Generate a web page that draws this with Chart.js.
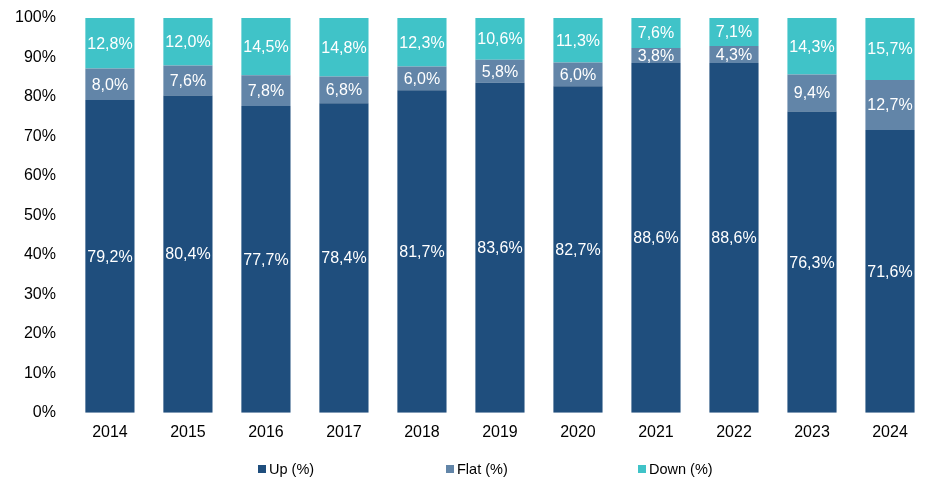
<!DOCTYPE html>
<html>
<head>
<meta charset="utf-8">
<script src="https://cdn.jsdelivr.net/npm/chart.js@4/dist/chart.umd.min.js"></script>
<style>
  html, body { margin: 0; padding: 0; background: #fff; }
  #wrap { position: relative; width: 937px; height: 495px; }
  .legend { position: absolute; top: 460px; font: 14.5px "Liberation Sans", Arial, sans-serif; color: #000; white-space: nowrap; line-height: 18px; }
  .legend span.box { display: inline-block; width: 8px; height: 8px; margin-right: 3px; vertical-align: 1px; }
</style>
</head>
<body>
<div id="wrap">
  <canvas id="chart"></canvas>
</div>
<script>
(function () {
  var years = ["2014", "2015", "2016", "2017", "2018", "2019", "2020", "2021", "2022", "2023", "2024"];
  var upValues = [79.2, 80.4, 77.7, 78.4, 81.7, 83.6, 82.7, 88.6, 88.6, 76.3, 71.6];
  var flatValues = [8.0, 7.6, 7.8, 6.8, 6.0, 5.8, 6.0, 3.8, 4.3, 9.4, 12.7];
  var downValues = [12.8, 12.0, 14.5, 14.8, 12.3, 10.6, 11.3, 7.6, 7.1, 14.3, 15.7];
  var seriesNames = ["Up (%)", "Flat (%)", "Down (%)"];

  var COLORS = {
    up: "#1f4e7d",
    flat: "#6285a8",
    down: "#40c3c8",
  };
  var FONT = "'Liberation Sans', Arial, sans-serif";

  // write the numbers in the middle of each segment, comma decimals
  var segmentLabels = {
    id: "segmentLabels",
    afterDatasetsDraw: function (chart) {
      var ctx = chart.ctx;
      ctx.save();
      ctx.font = "16px " + FONT;
      ctx.fillStyle = "#fff";
      ctx.textAlign = "center";
      ctx.textBaseline = "middle";
      chart.data.datasets.forEach(function (ds, i) {
        var meta = chart.getDatasetMeta(i);
        meta.data.forEach(function (bar, j) {
          var p = bar.getProps(["x", "y", "base"], true);
          var txt = ds.data[j].toFixed(1).replace(".", ",") + "%";
          ctx.fillText(txt, p.x, (p.y + p.base) / 2 + 1);
        });
      });
      ctx.restore();
    }
  };

  var chart = new Chart(document.getElementById("chart"), {
    type: "bar",
    data: {
      labels: years,
      datasets: [
        { label: seriesNames[0], data: upValues, backgroundColor: COLORS.up },
        { label: seriesNames[1], data: flatValues, backgroundColor: COLORS.flat },
        { label: seriesNames[2], data: downValues, backgroundColor: COLORS.down },
      ],
    },
    options: {
      responsive: true,
      maintainAspectRatio: false,
      animation: false,
      datasets: { bar: { barPercentage: 0.63, categoryPercentage: 1 } },
      layout: { padding: { left: 0, right: 8, top: 18, bottom: 43 } },
      plugins: {
        legend: { display: false },
        tooltip: { enabled: false },
      },
      scales: {
        x: {
          stacked: true,
          grid: { display: false, drawTicks: false },
          border: { display: false },
          ticks: { color: "#000", padding: 10, font: { family: FONT, size: 16 } },
        },
        y: {
          stacked: true,
          min: 0,
          max: 100,
          grid: { display: false, drawTicks: false },
          border: { display: false },
          ticks: {
            stepSize: 10,
            color: "#000",
            padding: 15,
            font: { family: FONT, size: 16 },
            callback: function (v) { return v + "%"; }
          },
          // top label may overflow into the padding, don't shrink the plot for it
          afterFit: function (scale) {
            scale.paddingTop = 0;
            scale.paddingBottom = 0;
          },
        },
      },
    },
    plugins: [segmentLabels],
  });

  // legend spread out like the original, built from the datasets
  var wrap = document.getElementById("wrap");
  var lefts = [258, 446, 638];
  chart.data.datasets.forEach(function (ds, i) {
    var d = document.createElement("div");
    d.className = "legend";
    d.style.left = lefts[i] + "px";
    d.innerHTML = '<span class="box" style="background:' + ds.backgroundColor + '"></span>' + ds.label;
    wrap.appendChild(d);
  });
})();
</script>
</body>
</html>
